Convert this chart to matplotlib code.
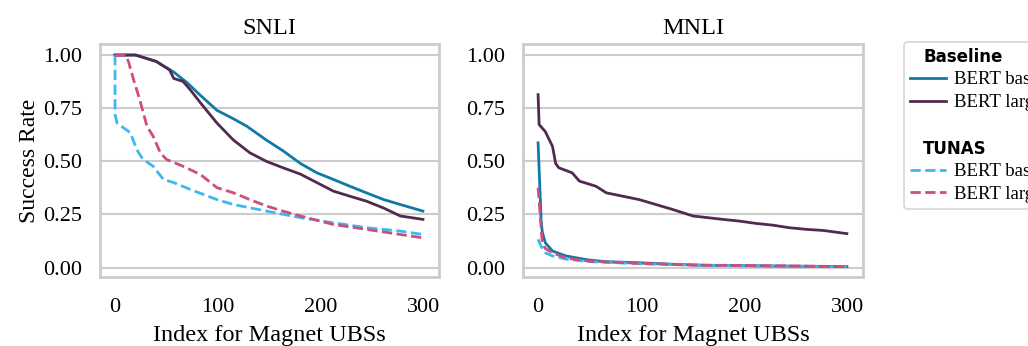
import matplotlib
matplotlib.use("Agg")
import matplotlib.pyplot as plt
from matplotlib.lines import Line2D

# ---- data ----
snli_base_x = [0, 20, 40, 57, 70, 83, 99, 115, 128, 147, 163, 180, 196, 212, 228, 244, 261, 277, 299]
snli_base_y = [1.0, 1.0, 0.97, 0.92, 0.87, 0.81, 0.74, 0.70, 0.665, 0.60, 0.55, 0.49, 0.446, 0.415, 0.383, 0.352, 0.32, 0.297, 0.266]

snli_large_x = [0, 20, 40, 53, 57, 66, 73, 83, 99, 115, 131, 147, 163, 180, 196, 212, 228, 244, 261, 277, 299]
snli_large_y = [1.0, 1.0, 0.97, 0.93, 0.89, 0.876, 0.837, 0.775, 0.68, 0.60, 0.54, 0.50, 0.47, 0.44, 0.40, 0.36, 0.336, 0.313, 0.28, 0.243, 0.227]

snli_tbase_x = [0, 0, 2, 15, 21, 27, 37, 47, 57, 73, 99, 115, 147, 180, 212, 244, 277, 299]
snli_tbase_y = [1.0, 0.72, 0.68, 0.634, 0.556, 0.51, 0.477, 0.415, 0.40, 0.368, 0.32, 0.297, 0.266, 0.235, 0.211, 0.188, 0.172, 0.156]

snli_tlarge_x = [0, 10, 13, 18, 24, 31, 37, 44, 50, 66, 83, 99, 115, 131, 147, 163, 180, 212, 244, 277, 299]
snli_tlarge_y = [1.0, 1.0, 0.97, 0.884, 0.79, 0.665, 0.618, 0.54, 0.509, 0.477, 0.438, 0.376, 0.352, 0.32, 0.29, 0.266, 0.243, 0.203, 0.18, 0.156, 0.14]

mnli_base_x = [0, 3, 4, 7, 14, 27, 49, 66, 98, 130, 163, 230, 299]
mnli_base_y = [0.587, 0.22, 0.17, 0.117, 0.078, 0.055, 0.036, 0.028, 0.023, 0.016, 0.011, 0.008, 0.005]

mnli_large_x = [0, 1, 7, 14, 17, 20, 33, 40, 56, 66, 82, 98, 114, 130, 150, 179, 195, 211, 227, 243, 260, 276, 299]
mnli_large_y = [0.814, 0.673, 0.64, 0.57, 0.49, 0.47, 0.446, 0.407, 0.383, 0.352, 0.336, 0.32, 0.297, 0.274, 0.243, 0.227, 0.219, 0.208, 0.20, 0.188, 0.18, 0.175, 0.16]

mnli_tbase_x = [0, 3, 7, 14, 27, 50, 100, 150, 200, 299]
mnli_tbase_y = [0.133, 0.10, 0.07, 0.055, 0.04, 0.028, 0.018, 0.012, 0.008, 0.004]

mnli_tlarge_x = [0, 2, 4, 7, 14, 27, 50, 100, 150, 200, 299]
mnli_tlarge_y = [0.376, 0.25, 0.12, 0.09, 0.07, 0.045, 0.03, 0.02, 0.012, 0.01, 0.005]

titles = ["SNLI", "MNLI"]
yticks = [0.0, 0.25, 0.5, 0.75, 1.0]
xticks = [0, 100, 200, 300]
labels = ["BERT base", "BERT large"]

c_base = "#0f7aa6"
c_large = "#522a50"
c_tbase = "#3db8ee"
c_tlarge = "#cf4d7b"

plt.rcParams['font.family'] = ['Liberation Serif', 'DejaVu Serif']

fig = plt.figure(figsize=(10.28, 3.46), dpi=100)
ax1 = fig.add_axes([100/1028, 1-277/346, 339/1028, 233/346])
ax2 = fig.add_axes([523/1028, 1-277/346, 340/1028, 233/346])

data = [
    (snli_base_x, snli_base_y, snli_large_x, snli_large_y, snli_tbase_x, snli_tbase_y, snli_tlarge_x, snli_tlarge_y),
    (mnli_base_x, mnli_base_y, mnli_large_x, mnli_large_y, mnli_tbase_x, mnli_tbase_y, mnli_tlarge_x, mnli_tlarge_y),
]

lw = 2.0
dash = (0, (3.7, 1.6))
for ax, title, d in zip([ax1, ax2], titles, data):
    bx, by, lx, ly, tbx, tby, tlx, tly = d
    ax.plot(bx, by, color=c_base, lw=lw)
    ax.plot(lx, ly, color=c_large, lw=lw)
    ax.plot(tbx, tby, color=c_tbase, lw=lw, ls=dash)
    ax.plot(tlx, tly, color=c_tlarge, lw=lw, ls=dash)
    ax.set_xlim(-14.6, 314.6)
    ax.set_ylim(-0.044, 1.052)
    ax.set_yticks(yticks)
    ax.set_yticklabels([f"{v:.2f}" for v in yticks])
    ax.set_xticks(xticks)
    ax.tick_params(length=0, labelsize=16)
    ax.tick_params(axis='y', pad=13)
    ax.tick_params(axis='x', pad=15)
    ax.grid(axis='y', color='#cccccc', lw=1.5)
    ax.set_axisbelow(True)
    for s in ax.spines.values():
        s.set_color('#cccccc')
        s.set_linewidth(2)
    ax.set_title(title, fontsize=17.5, pad=7)
    ax.set_xlabel("Index for Magnet UBSs", fontsize=17.5, labelpad=6)

ax1.set_ylabel("Success Rate", fontsize=17, labelpad=2)

blank = Line2D([], [], color='none')
handles = [blank,
           Line2D([], [], color=c_base, lw=lw),
           Line2D([], [], color=c_large, lw=lw),
           blank, blank,
           Line2D([], [], color=c_tbase, lw=lw, ls=dash),
           Line2D([], [], color=c_tlarge, lw=lw, ls=dash)]
leg_labels = ["Baseline", labels[0], labels[1], " ", "TUNAS", labels[0], labels[1]]
leg = fig.legend(handles, leg_labels, loc='upper left', bbox_to_anchor=(904/1028, 1-42/346),
                 borderaxespad=0, fontsize=13.5, frameon=True, handlelength=1.92,
                 handletextpad=0.43, borderpad=0.3, labelspacing=0.3, fancybox=True)
leg.get_frame().set_edgecolor('#cccccc')
leg.get_frame().set_linewidth(1.2)
texts = leg.get_texts()
for i in (0, 4):
    texts[i].set_fontfamily('DejaVu Sans')
    texts[i].set_fontweight('bold')
    texts[i].set_fontsize(12)

# shift header rows left by shrinking their handle boxes
try:
    col = leg._legend_handle_box.get_children()[0]
    rows = col.get_children()
    for i in (0, 4):
        hbox = rows[i].get_children()[0]
        hbox.width = 4
except Exception:
    pass

fig.savefig("out.png", dpi=100)
